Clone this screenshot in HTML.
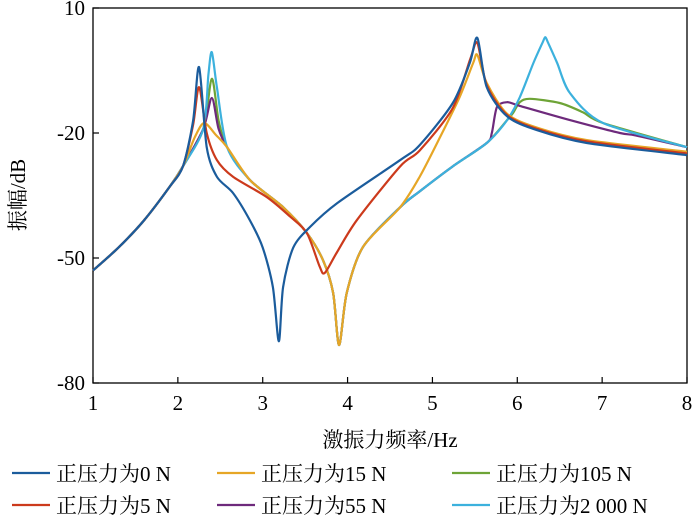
<!DOCTYPE html>
<html><head><meta charset="utf-8">
<style>
body{margin:0;background:#fff;}
svg text{font-family:"Liberation Serif","Noto Serif CJK SC",serif;fill:#000;}
</style></head>
<body>
<svg id="chart" width="700" height="527" viewBox="0 0 700 527" xmlns="http://www.w3.org/2000/svg">
<g id="axes"></g>
<g id="series"></g>
<g id="legend"></g>
</svg>
<script>
const xTicks=[1,2,3,4,5,6,7,8];
const yTicks=[10,-20,-50,-80];
const seriesNames=["正压力为0 N","正压力为5 N","正压力为15 N","正压力为55 N","正压力为105 N","正压力为2 000 N"];
const seriesColors=["#1b5c9c","#cc3a1c","#e6a626","#6e2a7c","#6ea437","#3cb1dd"];
const lowF=[1,1.3,1.6,1.9,2.06];
const lowD=[-53,-47.5,-41,-33,-28];
const cyMidF=[2.58,2.85,3.24,3.52,3.71,3.83,3.9,3.99,4.18,4.62];
const cyMidD=[-23.4,-31.3,-37.8,-44,-50.5,-58.4,-70.9,-58.4,-47.4,-37.8];
const f0=[...lowF,2.18,2.25,2.34,2.46,2.65,2.85,3.0,3.12,3.19,3.24,3.36,3.56,3.88,4.62,4.85,5.24,5.44,5.53,5.64,5.88,6.23,6.82,8];
const d0=[...lowD,-17,-4.2,-23.4,-30.5,-34.4,-41,-47.5,-57,-70,-57,-47.5,-42.5,-36.8,-26.5,-22.9,-12.8,-3.2,2.8,-9,-16,-19.3,-22.4,-25.3];
const f5=[...lowF,2.18,2.25,2.34,2.46,2.65,3.05,3.32,3.52,3.67,3.73,3.87,4.11,4.62,4.85,5.24,5.45,5.53,5.64,5.88,6.23,6.82,8];
const d5=[...lowD,-18,-9,-20,-26.5,-30.5,-35.4,-40,-44,-52,-53.6,-48.8,-40.9,-28,-24.2,-14,-2,1.6,-8.5,-15.7,-19,-22,-24.9];
const f15=[...lowF,2.2,2.31,2.45,...cyMidF,4.85,5.09,5.32,5.48,5.53,5.64,5.88,6.23,6.82,8];
const d15=[...lowD,-21,-17.6,-20.5,...cyMidD,-30.5,-21,-11.4,-3.2,-1.3,-8,-15.4,-18.7,-21.7,-24.5];
const f55=[...lowF,2.3,2.4,2.48,...cyMidF,4.85,5.24,5.64,5.7,5.76,5.88,6.03,6.62,7.21,7.4,8];
const d55=[...lowD,-19,-11.6,-19,...cyMidD,-34,-28,-22.4,-20,-13.8,-12.6,-13.5,-16.9,-20,-20.6,-23.4];
const f105=[...lowF,2.3,2.4,2.48,...cyMidF,4.85,5.24,5.64,5.88,5.95,6.03,6.15,6.5,6.77,7.01,8];
const d105=[...lowD,-19,-7,-17,...cyMidD,-34,-28,-22.4,-16.9,-15.2,-12.6,-11.8,-12.8,-15,-17.6,-23.4];
const f2000=[...lowF,2.3,2.36,2.4,2.46,...cyMidF,4.85,5.24,5.64,5.88,6.03,6.19,6.3,6.33,6.36,6.47,6.62,7.01,8];
const d2000=[...lowD,-19,-6,-0.6,-9,...cyMidD,-34,-28,-22.4,-16.9,-11.4,-3.2,1.8,3,1.8,-3.2,-10.4,-17.6,-23.4];
const seriesF=[f0,f5,f15,f55,f105,f2000];
const seriesD=[d0,d5,d15,d55,d105,d2000];

const X0=93,X1=687,Y0=8,Y1=383;
const xs=v=>X0+(v-1)/(8-1)*(X1-X0);
const ys=v=>Y0+(10-v)/(10-(-80))*(Y1-Y0);
const NS="http://www.w3.org/2000/svg";
function mk(t,a,p){const e=document.createElementNS(NS,t);for(const k in a)e.setAttribute(k,a[k]);p.appendChild(e);return e;}
const ax=document.getElementById('axes');
const frame=mk('rect',{x:X0,y:Y0,width:X1-X0,height:Y1-Y0,fill:'none',stroke:'#000','stroke-width':1.3},ax);


xTicks.forEach(v=>{
 const x=xs(v);
 const t=mk('line',{x1:x,x2:x,y1:Y1,y2:Y1-6,stroke:'#000','stroke-width':1.2},ax);
 
 
 const l=mk('text',{x:x,y:Y1+27,'text-anchor':'middle','font-size':21},ax);
 l.textContent=v;
 
 
});
yTicks.forEach(v=>{
 const y=ys(v);
 const t=mk('line',{x1:X0,x2:X0+6,y1:y,y2:y,stroke:'#000','stroke-width':1.2},ax);
 
 
 const l=mk('text',{x:X0-8,y:y+7,'text-anchor':'end','font-size':21},ax);
 l.textContent=v;
 
 
});
const xl=mk('text',{x:390,y:447,'text-anchor':'middle','font-size':21},ax);
xl.textContent="激振力频率/Hz";


const yl=mk('text',{x:0,y:0,'text-anchor':'middle','font-size':21,transform:'translate(25,195) rotate(-90)'},ax);
yl.textContent="振幅/dB";



function pathFor(F,D){
 const p=F.map((f,i)=>[xs(f),ys(D[i])]);
 let d=`M${p[0][0]},${p[0][1]}`;
 for(let i=0;i<p.length-1;i++){
  const p0=p[Math.max(0,i-1)],p1=p[i],p2=p[i+1],p3=p[Math.min(p.length-1,i+2)];
  const t=0.14;
  const c1=[p1[0]+(p2[0]-p0[0])*t,p1[1]+(p2[1]-p0[1])*t];
  const c2=[p2[0]-(p3[0]-p1[0])*t,p2[1]-(p3[1]-p1[1])*t];
  d+=` C${c1[0]},${c1[1]} ${c2[0]},${c2[1]} ${p2[0]},${p2[1]}`;
 }
 return d;
}
const sg=document.getElementById('series');
const order=[4,3,5,2,1,0];
const keys=["0n","5n","15n","55n","105n","2000n"];
order.forEach(i=>{
 const e=mk('path',{d:pathFor(seriesF[i],seriesD[i]),fill:'none',stroke:seriesColors[i],'stroke-width':2.2,'stroke-linejoin':'round'},sg);
 
 
});
const lg=document.getElementById('legend');
const legPos=[[12,473],[12,505],[217,473],[217,505],[452,473],[452,505]];
seriesNames.forEach((n,i)=>{
 const [x,y]=legPos[i];
 const g=mk('g',{},lg);
 
 
 mk('line',{x1:x,x2:x+38,y1:y,y2:y,stroke:seriesColors[i],'stroke-width':2.2},g);
 const t=mk('text',{x:x+44,y:y+8,'font-size':21},g);
 t.textContent=n;
});
</script>
</body></html>
